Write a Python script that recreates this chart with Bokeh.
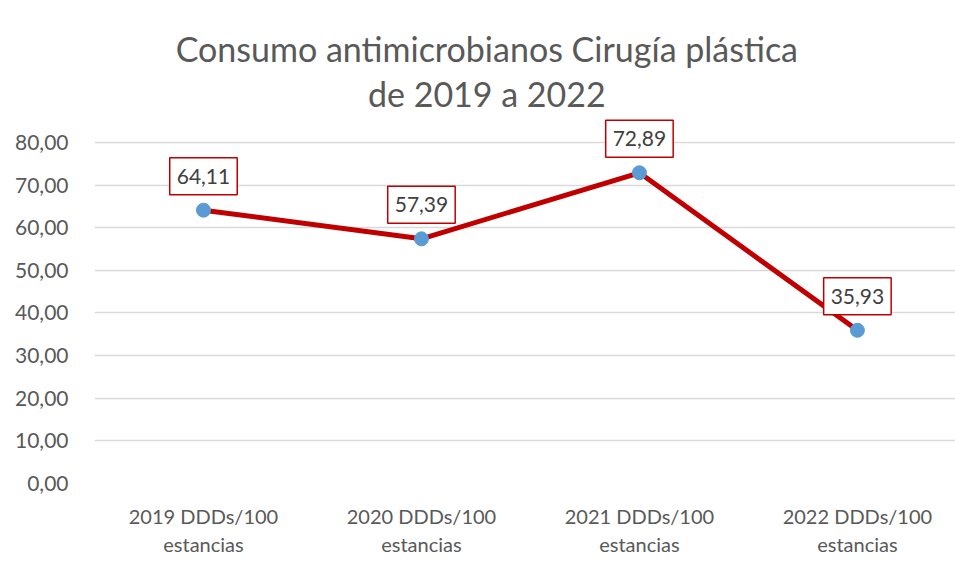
from bokeh.plotting import figure
from bokeh.models import ColumnDataSource, Label, FixedTicker, Range1d
from bokeh.embed import file_html
from bokeh.resources import INLINE

categories = ["2019 DDDs/100\nestancias", "2020 DDDs/100\nestancias",
              "2021 DDDs/100\nestancias", "2022 DDDs/100\nestancias"]
values = [64.11, 57.39, 72.89, 35.93]
y_ticks = [0, 10, 20, 30, 40, 50, 60, 70, 80]
y_tick_labels = ["0,00", "10,00", "20,00", "30,00", "40,00", "50,00", "60,00", "70,00", "80,00"]
title_lines = ["Consumo antimicrobianos Cirugía plástica", "de 2019 a 2022"]

FONT = "Lato"
GREY = "#595959"

xs = list(range(len(categories)))
labels = [f"{v:.2f}".replace(".", ",") for v in values]
src = ColumnDataSource(dict(x=xs, y=values, lab=labels))

p = figure(width=955, height=578, output_backend="svg", toolbar_location=None,
           x_range=Range1d(-0.5, 3.45), y_range=Range1d(0, 113.3),
           min_border_left=94, min_border_right=0, min_border_top=0,
           min_border_bottom=95)
p.outline_line_color = None
p.background_fill_color = "white"
p.border_fill_color = "white"

p.xgrid.grid_line_color = None
p.ygrid.grid_line_color = "#D9D9D9"
p.ygrid.grid_line_width = 1.3

p.yaxis.ticker = FixedTicker(ticks=y_ticks)
p.yaxis.major_label_overrides = {t: l for t, l in zip(y_ticks, y_tick_labels)}
p.xaxis.ticker = FixedTicker(ticks=xs)
p.xaxis.major_label_overrides = {x: c for x, c in zip(xs, categories)}

for ax in (p.xaxis, p.yaxis):
    ax.axis_line_color = None
    ax.major_tick_line_color = None
    ax.minor_tick_line_color = None
    ax.major_label_text_font = FONT
    ax.major_label_text_color = GREY
    ax.major_label_text_font_size = "20px"
p.yaxis.major_label_text_font_size = "21px"
p.yaxis.major_label_standoff = 20
p.xaxis.major_label_standoff = 14

p.line("x", "y", source=src, line_color="#C00000", line_width=5)
p.scatter("x", "y", source=src, size=14, fill_color="#5B9BD5", line_color="#5B9BD5")

for xv, yv, lab in zip(xs, values, labels):
    p.add_layout(Label(x=xv, y=yv, text=lab, y_offset=34,
                       text_align="center", text_baseline="middle",
                       text_font=FONT, text_font_size="21px", text_color="#404040",
                       background_fill_color="white", border_line_color="#C00000",
                       border_line_width=1.5, padding=(7, 11)))

p.add_layout(Label(x=1.3, y=102.0, text=title_lines[0], text_align="center",
                   text_baseline="middle", text_font=FONT, text_font_size="34px",
                   text_color=GREY))
p.add_layout(Label(x=1.3, y=91.4, text=title_lines[1], text_align="center",
                   text_baseline="middle", text_font=FONT, text_font_size="34px",
                   text_color=GREY))

open("out.html", "w").write(file_html(p, INLINE))
